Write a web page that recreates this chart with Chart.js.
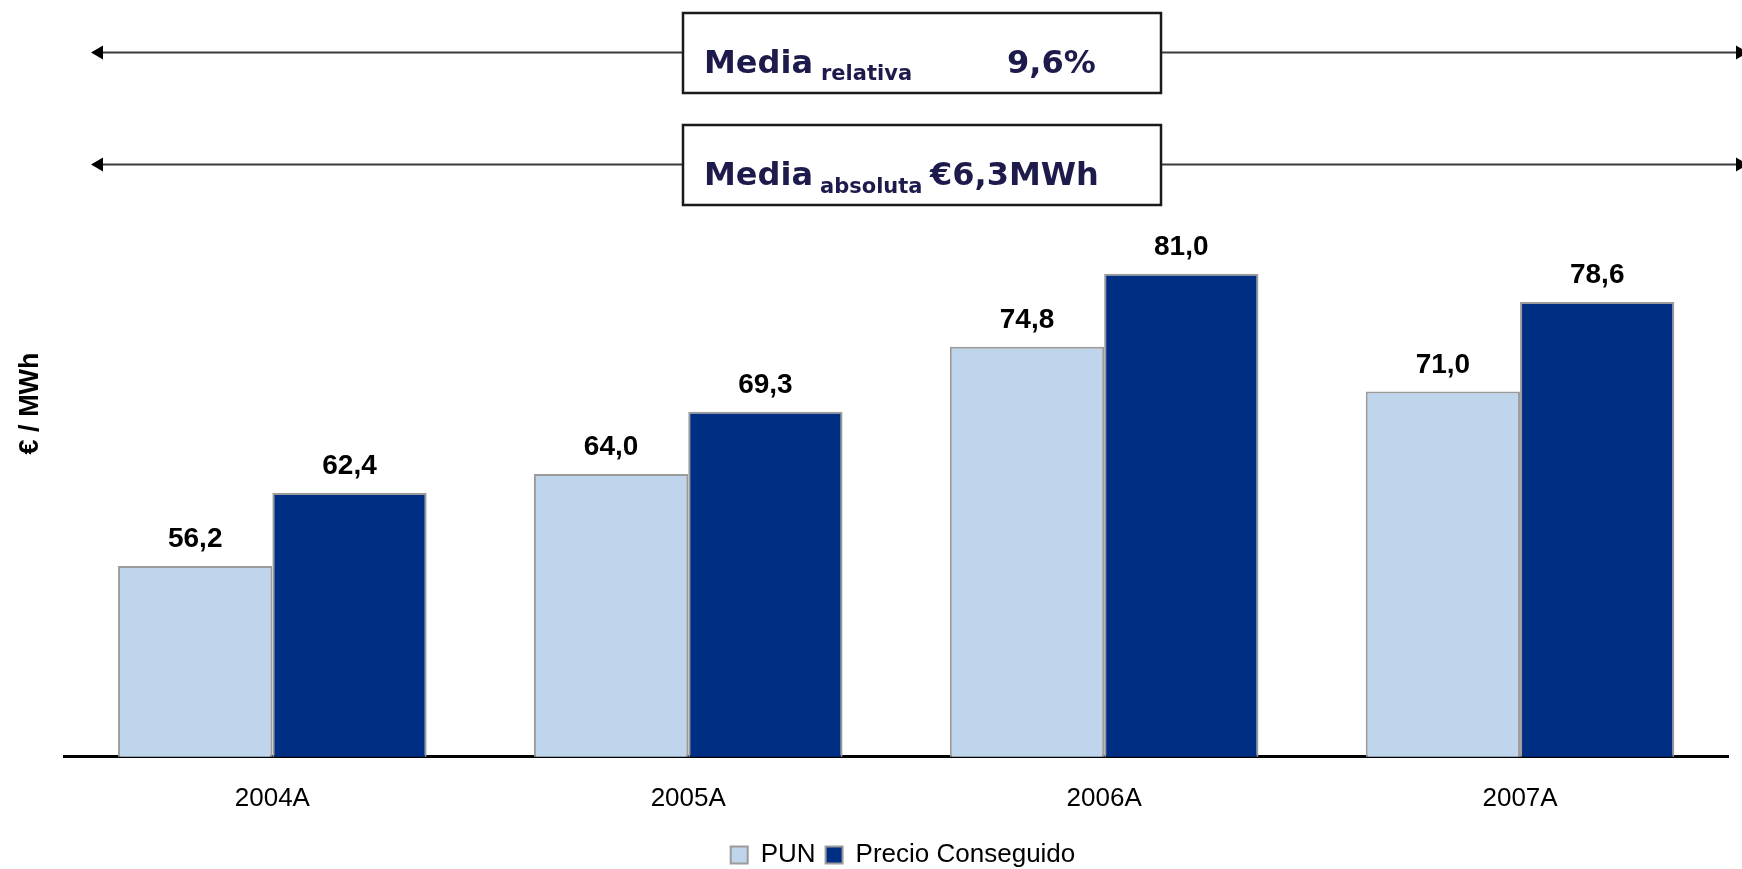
<!DOCTYPE html>
<html>
<head>
<meta charset="utf-8">
<script src="https://cdn.jsdelivr.net/npm/chart.js@4.4.1/dist/chart.umd.min.js"></script>
<style>
  html, body { margin: 0; padding: 0; background: #ffffff; }
  #wrap { position: relative; width: 1742px; height: 869px; }
</style>
</head>
<body>
<div id="wrap"><canvas id="c" width="1742" height="869"></canvas></div>
<script>
// ---- data ----
const categories = ['2004A', '2005A', '2006A', '2007A'];
const punValues = [56.2, 64.0, 74.8, 71.0];
const precioValues = [62.4, 69.3, 81.0, 78.6];
const seriesNames = ['PUN', 'Precio Conseguido'];
const yAxisTitle = '€ / MWh';
const yMin = 40;
const yMax = 100;
const mediaRelativa = '9,6%';
const mediaAbsoluta = '€6,3MWh';

const fmt = v => v.toFixed(1).replace('.', ',');

const valueLabels = {
  id: 'valueLabels',
  afterDatasetsDraw(chart) {
    const ctx = chart.ctx;
    ctx.save();
    ctx.font = 'bold 28px "Liberation Sans", Arial, sans-serif';
    ctx.fillStyle = '#000000';
    ctx.textAlign = 'center';
    ctx.textBaseline = 'alphabetic';
    chart.data.datasets.forEach((ds, i) => {
      const meta = chart.getDatasetMeta(i);
      meta.data.forEach((bar, j) => {
        ctx.fillText(fmt(ds.data[j]), bar.x, bar.y - 19);
      });
    });
    ctx.restore();
  }
};

const legendShift = {
  id: 'legendShift',
  afterLayout(chart) {
    if (chart.legend) {
      chart.legend.left += 68;
      chart.legend.top -= 8;
    }
  }
};

function arrowHead(ctx, x, y, dir) {
  ctx.beginPath();
  ctx.moveTo(x, y);
  ctx.lineTo(x - dir * 12, y - 7);
  ctx.lineTo(x - dir * 12, y + 7);
  ctx.closePath();
  ctx.fill();
}

const mediaBoxes = {
  id: 'mediaBoxes',
  afterDraw(chart) {
    const ctx = chart.ctx;
    ctx.save();
    const boxL = 683, boxR = 1161;
    const rows = [
      { top: 13, bottom: 93, main: 'Media', sub: 'relativa', val: mediaRelativa,
        subX: 821, valX: 1007, base: 73, subBase: 80 },
      { top: 125, bottom: 205, main: 'Media', sub: 'absoluta', val: mediaAbsoluta,
        subX: 820, valX: 930, base: 185, subBase: 193 }
    ];
    rows.forEach(r => {
      const cy = Math.round((r.top + r.bottom) / 2) - 0.5;
      ctx.strokeStyle = '#3a3a3a';
      ctx.lineWidth = 2;
      ctx.beginPath();
      ctx.moveTo(95, cy); ctx.lineTo(boxL, cy);
      ctx.moveTo(boxR, cy); ctx.lineTo(1738, cy);
      ctx.stroke();
      ctx.fillStyle = '#000000';
      arrowHead(ctx, 91, cy, -1);
      arrowHead(ctx, 1748, cy, 1);
      ctx.fillStyle = '#ffffff';
      ctx.fillRect(boxL, r.top, boxR - boxL, r.bottom - r.top);
      ctx.strokeStyle = '#1a1a1a';
      ctx.lineWidth = 2.5;
      ctx.strokeRect(boxL, r.top, boxR - boxL, r.bottom - r.top);
      ctx.fillStyle = '#1c1b4b';
      ctx.textAlign = 'left';
      ctx.textBaseline = 'alphabetic';
      ctx.font = 'bold 32px "DejaVu Sans", Verdana, sans-serif';
      ctx.fillText(r.main, 704, r.base);
      ctx.fillText(r.val, r.valX, r.base);
      ctx.font = 'bold 21px "DejaVu Sans", Verdana, sans-serif';
      ctx.fillText(r.sub, r.subX, r.subBase);
    });
    ctx.restore();
  }
};

new Chart(document.getElementById('c'), {
  type: 'bar',
  data: {
    labels: categories,
    datasets: [
      {
        label: seriesNames[0],
        data: punValues,
        backgroundColor: '#BED5EB',
        borderColor: '#9B9B9B',
        borderWidth: 2,
        categoryPercentage: 0.742,
        barPercentage: 1.0
      },
      {
        label: seriesNames[1],
        data: precioValues,
        backgroundColor: '#002E83',
        borderColor: '#9B9B9B',
        borderWidth: 2,
        categoryPercentage: 0.742,
        barPercentage: 1.0
      }
    ]
  },
  options: {
    responsive: false,
    animation: false,
    devicePixelRatio: 1,
    layout: { padding: { left: 10, right: 14, top: 50, bottom: -17 } },
    plugins: {
      tooltip: { enabled: false },
      legend: {
        position: 'bottom',
        labels: {
          color: '#000000',
          font: { family: '"Liberation Sans", Arial, sans-serif', size: 26 },
          boxWidth: 17,
          boxHeight: 17,
          padding: 10
        }
      }
    },
    scales: {
      x: {
        grid: { display: false, drawTicks: false },
        border: { display: true, color: '#000000', width: 3 },
        ticks: {
          color: '#000000',
          padding: 26,
          font: { family: '"Liberation Sans", Arial, sans-serif', size: 26 }
        }
      },
      y: {
        min: yMin,
        max: yMax,
        grid: { display: false, drawTicks: false },
        border: { display: false },
        ticks: { display: false },
        title: {
          display: true,
          text: yAxisTitle,
          color: '#000000',
          font: { family: '"Liberation Sans", Arial, sans-serif', size: 27, weight: 'bold' },
          padding: { top: 4, bottom: 18 }
        }
      }
    }
  },
  plugins: [valueLabels, mediaBoxes, legendShift]
});
</script>
</body>
</html>
